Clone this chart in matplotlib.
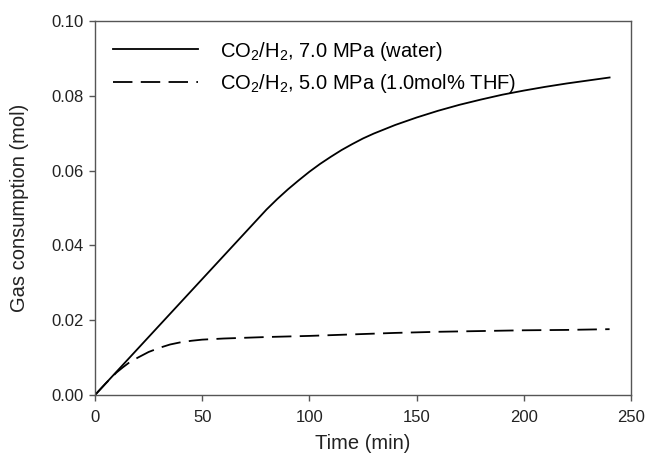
import matplotlib
matplotlib.use("Agg")
import matplotlib.pyplot as plt

plt.rcParams['font.family'] = ['Liberation Sans', 'DejaVu Sans']
plt.rcParams['mathtext.default'] = 'regular'
plt.rcParams['lines.scale_dashes'] = False

# solid: water, 7.0 MPa
t_water = [0, 10, 20, 30, 40, 50, 60, 70, 75, 80, 85, 90, 95, 100, 105,
           110, 115, 120, 125, 130, 140, 150, 160, 170, 180, 190, 200,
           210, 220, 230, 240]
gas_water = [0, 0.0062, 0.0124, 0.0186, 0.0248, 0.0310, 0.0372, 0.0434,
             0.0465, 0.0496, 0.0524, 0.0550, 0.0574, 0.0597, 0.0618,
             0.0637, 0.0655, 0.0671, 0.0686, 0.0699, 0.0722, 0.0742,
             0.0760, 0.0776, 0.0790, 0.0803, 0.0814, 0.0824, 0.0833,
             0.0841, 0.0849]

# dashed: 1.0 mol% THF, 5.0 MPa
t_thf = [0, 5, 10, 13, 16, 20, 25, 30, 35, 40, 45, 50, 60, 70, 80, 100,
         120, 140, 160, 180, 200, 220, 240]
gas_thf = [0, 0.0031, 0.0060, 0.0074, 0.0087, 0.0100, 0.0115, 0.0126,
           0.0135, 0.0141, 0.0145, 0.0148, 0.0151, 0.0153, 0.0155, 0.0158,
           0.0162, 0.0166, 0.0169, 0.0171, 0.0173, 0.0174, 0.0176]

labels = [r'CO$_2$/H$_2$, 7.0 MPa (water)',
          r'CO$_2$/H$_2$, 5.0 MPa (1.0mol% THF)']

fig = plt.figure(figsize=(6.49, 4.55), dpi=100)
ax = fig.add_axes([0.1464, 0.1319, 0.8259, 0.8219])

ax.plot(t_water, gas_water, color='black', lw=1.3, label=labels[0])
ax.plot(t_thf, gas_thf, color='black', lw=1.3, dashes=(14, 6), label=labels[1])

ax.set_xlim(0, 250)
ax.set_ylim(0, 0.10)
ax.set_xticks([0, 50, 100, 150, 200, 250])
ax.set_yticks([0.00, 0.02, 0.04, 0.06, 0.08, 0.10])
ax.set_yticklabels(['0.00', '0.02', '0.04', '0.06', '0.08', '0.10'])

for s in ax.spines.values():
    s.set_color('#555555')
    s.set_linewidth(1.0)
ax.tick_params(direction='out', length=4, width=1.0, color='#555555',
               labelsize=12, labelcolor='#222222', pad=4)
ax.tick_params(axis='x', pad=7)

ax.set_xlabel('Time (min)', fontsize=14.5, color='#222222', labelpad=6)
ax.set_ylabel('Gas consumption (mol)', fontsize=14.5, color='#222222', labelpad=16)

ax.legend(loc='upper left', bbox_to_anchor=(0.0, 0.999), frameon=False,
          fontsize=14.5, handlelength=4.2, handletextpad=1.1,
          labelspacing=0.45, borderaxespad=0.5)

fig.savefig('out.png', dpi=100)
